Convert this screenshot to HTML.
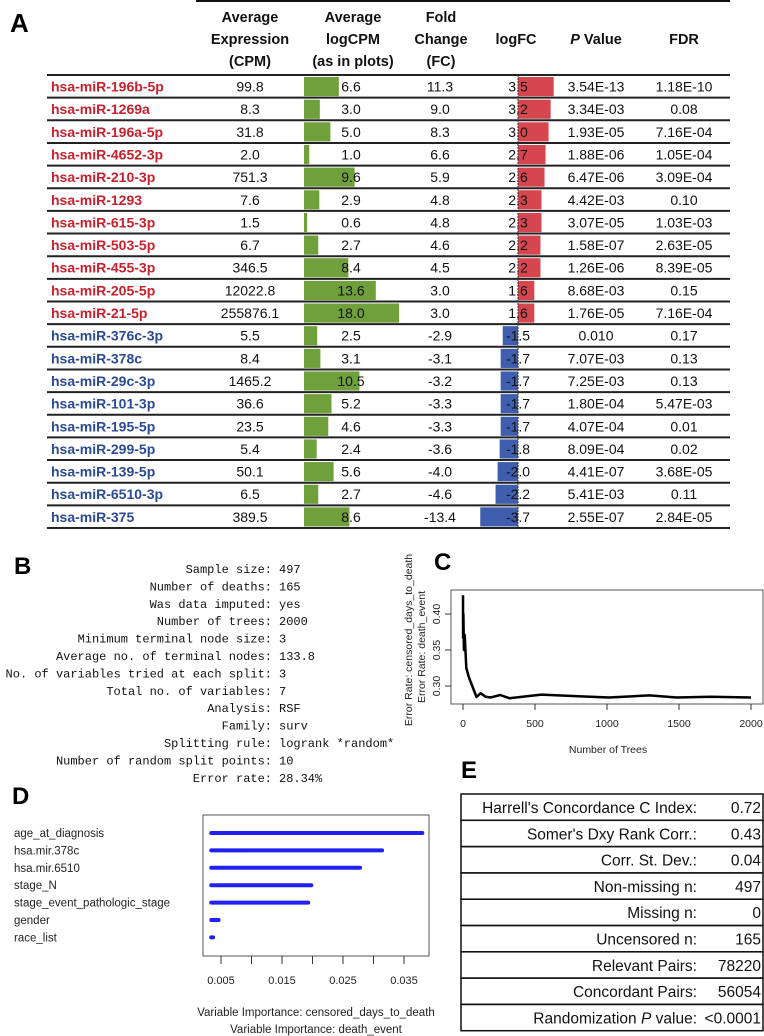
<!DOCTYPE html>
<html><head><meta charset="utf-8"><style>
html,body{margin:0;padding:0;background:#fff;}
svg{display:block;}
.cal{font-family:"Liberation Sans",sans-serif;}
.mono{font-family:"Liberation Mono",monospace;}
</style></head><body>
<svg id="fig" width="764" height="1036" viewBox="0 0 764 1036" xmlns="http://www.w3.org/2000/svg">
<g id="panelA">
  <text x="10" y="32" class="cal" font-size="26" font-weight="bold">A</text>
  <line x1="196" y1="1" x2="730" y2="1" stroke="#111" stroke-width="2"/>
  <g class="cal" font-size="14.5" font-weight="bold" text-anchor="middle" fill="#111">
    <text x="250" y="22"><tspan x="250">Average</tspan><tspan x="250" dy="22">Expression</tspan><tspan x="250" dy="22">(CPM)</tspan></text>
    <text x="353" y="22"><tspan x="353">Average</tspan><tspan x="353" dy="22">logCPM</tspan><tspan x="353" dy="22">(as in plots)</tspan></text>
    <text x="441" y="22"><tspan x="441">Fold</tspan><tspan x="441" dy="22">Change</tspan><tspan x="441" dy="22">(FC)</tspan></text>
    <text x="516" y="44">logFC</text>
    <text x="596" y="44"><tspan font-style="italic">P</tspan> Value</text>
    <text x="684" y="44">FDR</text>
  </g>
  <g id="rows"></g>
</g>

<g id="panelB">
  <text x="14" y="574" class="cal" font-size="24" font-weight="bold">B</text>
  <g id="bText" class="mono" font-size="12" fill="#111"></g>
</g>

<g id="panelC">
  <text x="434" y="570" class="cal" font-size="24" font-weight="bold">C</text>
  <g id="cChart"></g>
</g>

<g id="panelD">
  <text x="12" y="804" class="cal" font-size="24" font-weight="bold">D</text>
  <g id="dChart"></g>
</g>

<g id="panelE">
  <text x="461" y="778" class="cal" font-size="24" font-weight="bold">E</text>
  <g id="eTable"></g>
</g>
</svg>
<script>
// ---------- Panel A data ----------
const mirNames = ["hsa-miR-196b-5p","hsa-miR-1269a","hsa-miR-196a-5p","hsa-miR-4652-3p","hsa-miR-210-3p","hsa-miR-1293","hsa-miR-615-3p","hsa-miR-503-5p","hsa-miR-455-3p","hsa-miR-205-5p","hsa-miR-21-5p","hsa-miR-376c-3p","hsa-miR-378c","hsa-miR-29c-3p","hsa-miR-101-3p","hsa-miR-195-5p","hsa-miR-299-5p","hsa-miR-139-5p","hsa-miR-6510-3p","hsa-miR-375"];
const avgExpr = ["99.8","8.3","31.8","2.0","751.3","7.6","1.5","6.7","346.5","12022.8","255876.1","5.5","8.4","1465.2","36.6","23.5","5.4","50.1","6.5","389.5"];
const logCPM = [6.6,3.0,5.0,1.0,9.6,2.9,0.6,2.7,8.4,13.6,18.0,2.5,3.1,10.5,5.2,4.6,2.4,5.6,2.7,8.6];
const foldChange = [11.3,9.0,8.3,6.6,5.9,4.8,4.8,4.6,4.5,3.0,3.0,-2.9,-3.1,-3.2,-3.3,-3.3,-3.6,-4.0,-4.6,-13.4];
const logFC = [3.5,3.2,3.0,2.7,2.6,2.3,2.3,2.2,2.2,1.6,1.6,-1.5,-1.7,-1.7,-1.7,-1.7,-1.8,-2.0,-2.2,-3.7];
const pValues = ["3.54E-13","3.34E-03","1.93E-05","1.88E-06","6.47E-06","4.42E-03","3.07E-05","1.58E-07","1.26E-06","8.68E-03","1.76E-05","0.010","7.07E-03","7.25E-03","1.80E-04","4.07E-04","8.09E-04","4.41E-07","5.41E-03","2.55E-07"];
const fdrValues = ["1.18E-10","0.08","7.16E-04","1.05E-04","3.09E-04","0.10","1.03E-03","2.63E-05","8.39E-05","0.15","7.16E-04","0.17","0.13","0.13","5.47E-03","0.01","0.02","3.68E-05","0.11","2.84E-05"];

// ---------- Panel B ----------
const bLabels = ["Sample size:","Number of deaths:","Was data imputed:","Number of trees:","Minimum terminal node size:","Average no. of terminal nodes:","No. of variables tried at each split:","Total no. of variables:","Analysis:","Family:","Splitting rule:","Number of random split points:","Error rate:"];
const bValues = ["497","165","yes","2000","3","133.8","3","7","RSF","surv","logrank *random*","10","28.34%"];

// ---------- Panel C ----------
const treeCounts = [0,1,3,6,12,23,40,94,122,157,192,258,322,451,545,779,1014,1296,1484,1718,2000];
const errorRates = [0.426,0.367,0.40,0.35,0.371,0.325,0.3125,0.2847,0.290,0.285,0.284,0.2875,0.283,0.286,0.288,0.286,0.284,0.287,0.284,0.285,0.284];
const cXTicks = [0,500,1000,1500,2000];
const cYTicks = [0.30,0.35,0.40];

// ---------- Panel D ----------
const dVars = ["age_at_diagnosis","hsa.mir.378c","hsa.mir.6510","stage_N","stage_event_pathologic_stage","gender","race_list"];
const dImportance = [0.0380,0.0314,0.0278,0.0198,0.0193,0.0046,0.0037];
const dTicks = [0.005,0.010,0.015,0.020,0.025,0.030,0.035];
const dTickLabels = ["0.005","","0.015","","0.025","","0.035"];

// ---------- Panel E ----------
const eLabels = ["Harrell's Concordance C Index:","Somer's Dxy Rank Corr.:","Corr. St. Dev.:","Non-missing n:","Missing n:","Uncensored n:","Relevant Pairs:","Concordant Pairs:","Randomization P value:"];
const eValues = ["0.72","0.43","0.04","497","0","165","78220","56054","<0.0001"];

const NS="http://www.w3.org/2000/svg";
function mk(tag, attrs, parent){const e=document.createElementNS(NS,tag);for(const k in attrs)e.setAttribute(k,attrs[k]);parent.appendChild(e);return e;}

// ===== Panel A =====
(function(){
  const g=document.getElementById('rows');
  const top0=75, rh=22.65;
  const cpmX=304, cpmScale=5.28;
  const fcX=518, fcScale=10.2;
  for(let i=0;i<mirNames.length;i++){
    const y=top0+i*rh;
    const up = logFC[i]>0;
    const row=mk('g',{},g);
    
    
    const ln=mk('line',{x1:47,y1:y,x2:730,y2:y,stroke:'#222','stroke-width':2},row);
    
    
    const gb=mk('rect',{x:cpmX,y:y+2,width:logCPM[i]*cpmScale,height:rh-3.5,fill:'#70a03c'},row);
    
    
    const w=Math.abs(logFC[i])*fcScale;
    const fb=mk('rect',{x:up?fcX:fcX-w,y:y+2,width:w,height:rh-3.5,fill:up?'#d6464f':'#3f5fae'},row);
    
    
    const ty=y+16.5;
    const nm=mk('text',{x:51,y:ty,'class':'cal','font-size':14,'font-weight':'bold',fill:up?'#c8202c':'#2b4a94'},row);
    nm.textContent=mirNames[i];
    
    
    const cols=[[250,avgExpr[i],'avg-expression'],[351,logCPM[i].toFixed(1),'logcpm-value'],[440,foldChange[i].toFixed(1),'fold-change'],[518,logFC[i].toFixed(1),'logfc-value'],[596,pValues[i],'p-value'],[684,fdrValues[i],'fdr-value']];
    cols.forEach(c=>{
      const t=mk('text',{x:c[0],y:ty,'class':'cal','font-size':14,'text-anchor':'middle',fill:'#111'},row);
      t.textContent=c[1];
      
      
    });
  }
  const yb=top0+mirNames.length*rh;
  const bl=mk('line',{x1:47,y1:yb,x2:730,y2:yb,stroke:'#222','stroke-width':2},g);
  
  
  const dl=mk('line',{x1:fcX,y1:top0,x2:fcX,y2:yb,stroke:'#333','stroke-width':1,'stroke-dasharray':'2,1'},g);
  
  
})();

// ===== Panel B =====
(function(){
  const g=document.getElementById('bText');
  for(let i=0;i<bLabels.length;i++){
    const y=573+i*17.4;
    const a=mk('text',{x:272,y:y,'text-anchor':'end'},g);
    a.textContent=bLabels[i];
    
    
    const b=mk('text',{x:279,y:y},g);
    b.textContent=bValues[i];
    
    
  }
})();

// ===== Panel C =====
(function(){
  const g=document.getElementById('cChart');
  const x0=463,x1=751, bx0=451,bx1=763,by0=590,by1=704;
  const xs=v=>x0+(v-0)/(2000-0)*(x1-x0);
  const ys=v=>686-(v-0.30)*720;
  const box=mk('rect',{x:bx0,y:by0,width:bx1-bx0,height:by1-by0,fill:'none',stroke:'#555','stroke-width':1},g);
  
  
  cXTicks.forEach(v=>{
    const t=mk('line',{x1:xs(v),y1:by1,x2:xs(v),y2:by1+6,stroke:'#333'},g);
    
    
    const l=mk('text',{x:xs(v),y:727,'class':'cal','font-size':10.5,'text-anchor':'middle',fill:'#222'},g);
    l.textContent=v;
    
    
  });
  cYTicks.forEach(v=>{
    const t=mk('line',{x1:bx0-6,y1:ys(v),x2:bx0,y2:ys(v),stroke:'#333'},g);
    
    
    const l=mk('text',{x:0,y:0,'class':'cal','font-size':10.5,'text-anchor':'middle',fill:'#222',transform:'translate(440,'+ys(v)+') rotate(-90)'},g);
    l.textContent=v.toFixed(2);
    
    
  });
  let d='';
  treeCounts.forEach((v,i)=>{d+=(i?'L':'M')+xs(v).toFixed(1)+','+ys(errorRates[i]).toFixed(1);});
  const p=mk('path',{d:d,fill:'none',stroke:'#000','stroke-width':2.5,'stroke-linejoin':'round'},g);
  
  
  const xt=mk('text',{x:608,y:753,'class':'cal','font-size':10.5,'text-anchor':'middle',fill:'#222'},g);
  xt.textContent='Number of Trees';
  
  
  const y1=mk('text',{x:0,y:0,'class':'cal','font-size':10.5,'text-anchor':'middle',fill:'#222',transform:'translate(412,640) rotate(-90)'},g);
  y1.textContent='Error Rate: censored_days_to_death';
  
  
  const y2=mk('text',{x:0,y:0,'class':'cal','font-size':10.5,'text-anchor':'middle',fill:'#222',transform:'translate(425,647) rotate(-90)'},g);
  y2.textContent='Error Rate: death_event';
  
  
})();

// ===== Panel D =====
(function(){
  const g=document.getElementById('dChart');
  const bx0=203,bx1=429,by0=815,by1=956;
  const xs=v=>221+(v-0.005)*6100;
  const base=0.0034;
  const box=mk('rect',{x:bx0,y:by0,width:bx1-bx0,height:by1-by0,fill:'none',stroke:'#555','stroke-width':1},g);
  
  
  dVars.forEach((n,i)=>{
    const y=833+i*17.4;
    const l=mk('text',{x:14,y:y+4,'class':'cal','font-size':11.5,fill:'#222'},g);
    l.textContent=n;
    
    
    const b=mk('line',{x1:xs(base),y1:y,x2:xs(dImportance[i]),y2:y,stroke:'#2020f0','stroke-width':4,'stroke-linecap':'round'},g);
    
    
  });
  dTicks.forEach((v,i)=>{
    const t=mk('line',{x1:xs(v),y1:by1,x2:xs(v),y2:by1+8,stroke:'#333'},g);
    
    
    if(dTickLabels[i]){
      const l=mk('text',{x:xs(v),y:984,'class':'cal','font-size':11,'text-anchor':'middle',fill:'#222'},g);
      l.textContent=dTickLabels[i];
      
      
    }
  });
  const t1=mk('text',{x:316,y:1016,'class':'cal','font-size':11.5,'text-anchor':'middle',fill:'#222'},g);
  t1.textContent='Variable Importance: censored_days_to_death';
  
  
  const t2=mk('text',{x:316,y:1033,'class':'cal','font-size':11.5,'text-anchor':'middle',fill:'#222'},g);
  t2.textContent='Variable Importance: death_event';
  
  
})();

// ===== Panel E =====
(function(){
  const g=document.getElementById('eTable');
  const x0=461,x1=763,top=794,rh=26.3;
  for(let i=0;i<eLabels.length;i++){
    const y=top+i*rh;
    const r=mk('rect',{x:x0,y:y,width:x1-x0,height:rh,fill:'none',stroke:'#111','stroke-width':1.5},g);
    
    
    const a=mk('text',{x:697,y:y+19,'class':'cal','font-size':15.5,'text-anchor':'end',fill:'#111'},g);
    if(eLabels[i].indexOf(' P ')>=0){
      const parts=eLabels[i].split(' P ');
      a.appendChild(document.createTextNode(parts[0]+' '));
      const ts=mk('tspan',{'font-style':'italic'},a); ts.textContent='P';
      a.appendChild(document.createTextNode(' '+parts[1]));
    } else a.textContent=eLabels[i];
    
    
    const b=mk('text',{x:761,y:y+19,'class':'cal','font-size':15.5,'text-anchor':'end',fill:'#111'},g);
    b.textContent=eValues[i];
    
    
  }
})();
</script>
</body></html>
